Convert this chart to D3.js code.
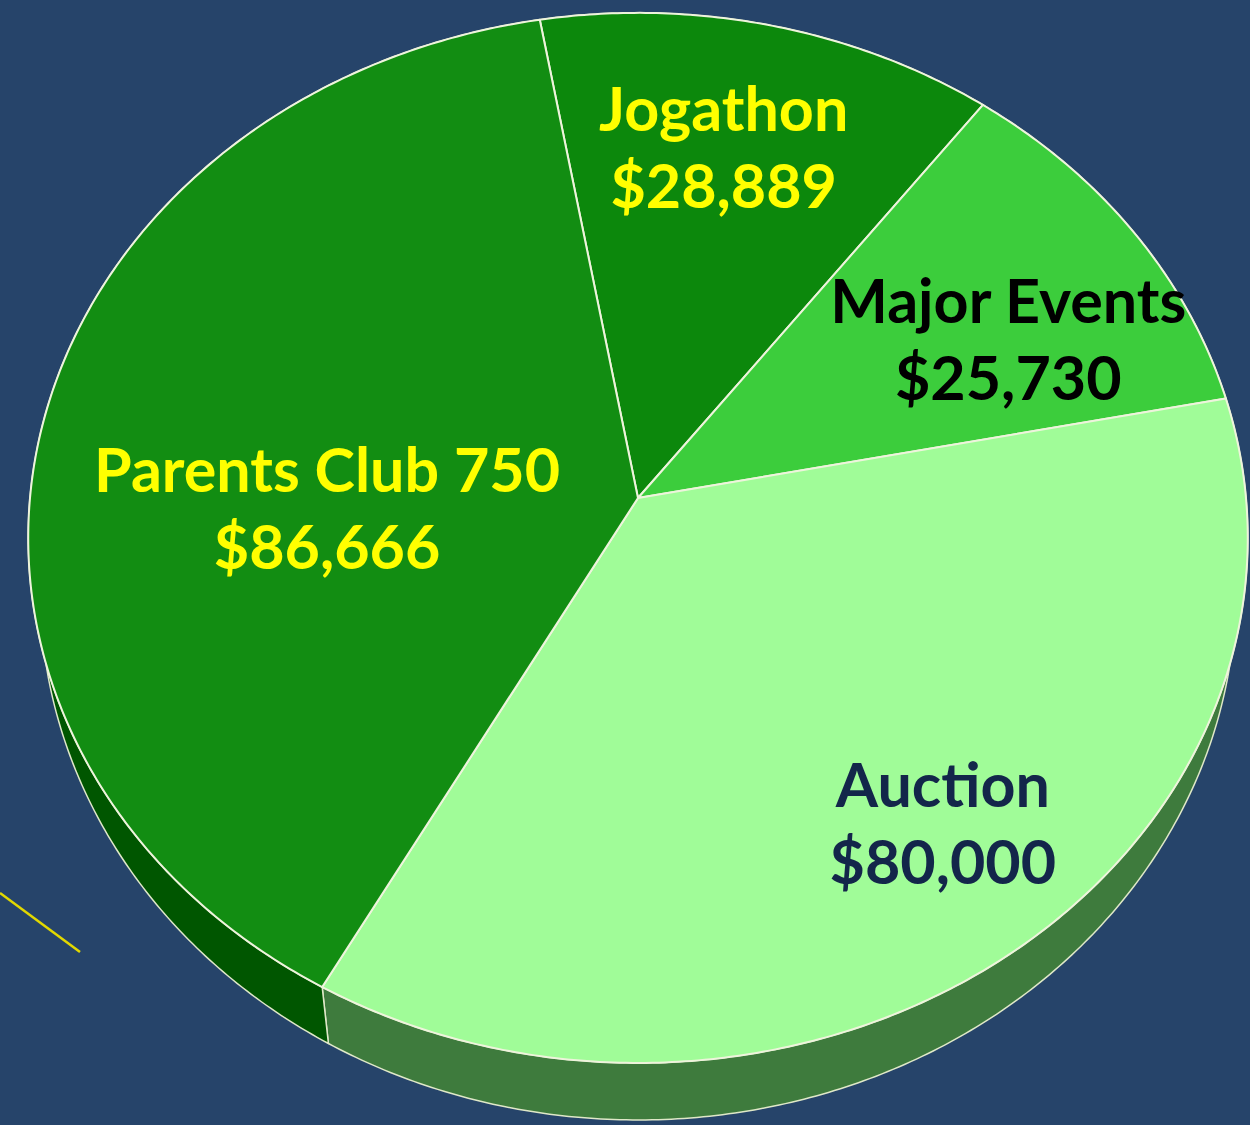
<!DOCTYPE html>
<html>
<head>
<meta charset="utf-8">
<script src="https://cdn.jsdelivr.net/npm/d3@7"></script>
<style>
	html, body { margin: 0; padding: 0; background: #26446a; }
	svg { display: block; }
	.slice-top { stroke: #eef4dc; stroke-width: 2; stroke-linejoin: round; }
	.slice-side { stroke: #dfe8c8; stroke-width: 1.5; stroke-linejoin: round; }
	.pie-label { font-family: Lato, 'Open Sans', sans-serif; font-weight: 700; font-size: 61px; text-anchor: middle; }
	.deco-line { stroke: #e2d800; stroke-width: 2.5; }
</style>
</head>
<body>
<div id="chart"></div>
<script>
/*
 *	fundraising pie (3d look)
 */

var categories = ['Jogathon', 'Major Events', 'Auction', 'Parents Club 750'];
var amounts = [28889, 25730, 80000, 86666];

// styles, same order as categories
var topColors = ['#0c880c', '#3ccd3c', '#a0fc98', '#128d12'];
var sideColors = ['#045a04', '#237a23', '#3e7b3d', '#005600'];
var labelColors = ['#ffff00', '#000000', '#13264a', '#ffff00'];

// label layout: fraction of radius and angle nudge (deg)
var labelRadius = [0.72, 0.695, 0.766, 0.511];
var labelNudge = [-1.6, 5.8, -2.6, -12.1];

(function () {
	'use strict';

	var width = 1250,
		height = 1125,
		startDeg = -10;

	// perspective projection of the pie disc
	var view = {
		cx: 638,
		cy: 498,
		a: 608,		// horizontal radius
		b: 522,		// vertical radius
		k: 0.076,	// perspective strength
		depth: 52.7,
		aBottom: 596
	};

	var money = d3.format('$,');
	var rad = d3.scaleLinear().domain([0, 360]).range([0, 2 * Math.PI]);

	var pie = d3.pie()
		.sort(null)
		.value(function (d) { return d; })
		.startAngle(rad(startDeg))
		.endAngle(rad(startDeg + 360));

	var slices = pie(amounts);

	// t: angle on the disc (clockwise from far side), r: fraction of radius
	var project = function (t, r, bottom) {
		var s = r * Math.sin(t),
			c = r * Math.cos(t),
			w = 1 + view.k * c;
		if (bottom) {
			return [view.cx + view.aBottom * s / w, view.cy - view.b * c / w + view.depth / w];
		}
		return [view.cx + view.a * s / w, view.cy - view.b * c / w];
	};

	var rimPoints = function (t0, t1, bottom) {
		var n = Math.max(2, Math.ceil(Math.abs(t1 - t0) / 0.01));
		return d3.range(n + 1).map(function (i) {
			return project(t0 + (t1 - t0) * i / n, 1, bottom);
		});
	};

	var line = d3.line();

	var svg = d3.select('#chart')
		.append('svg')
		.attr('width', width)
		.attr('height', height);

	svg.append('rect')
		.attr('width', width)
		.attr('height', height)
		.attr('fill', '#26446a');

	svg.append('line')
		.attr('class', 'deco-line')
		.attr('x1', 0).attr('y1', 893)
		.attr('x2', 80).attr('y2', 952);

	// SIDES
	svg.append('g')
		.selectAll('path')
		.data(slices)
		.join('path')
			.attr('class', 'slice-side')
			.attr('fill', function (d, i) { return sideColors[i]; })
			.attr('d', function (d) {
				var pts = rimPoints(d.startAngle, d.endAngle, false)
					.concat(rimPoints(d.endAngle, d.startAngle, true));
				return line(pts) + 'Z';
			});

	// TOPS
	svg.append('g')
		.selectAll('path')
		.data(slices)
		.join('path')
			.attr('class', 'slice-top')
			.attr('fill', function (d, i) { return topColors[i]; })
			.attr('d', function (d) {
				var pts = [project(0, 0, false)].concat(rimPoints(d.startAngle, d.endAngle, false));
				return line(pts) + 'Z';
			});

	// LABELS
	var labels = svg.append('g')
		.selectAll('text')
		.data(slices)
		.join('text')
			.attr('class', 'pie-label')
			.attr('fill', function (d, i) { return labelColors[i]; })
			.attr('transform', function (d, i) {
				var mid = (d.startAngle + d.endAngle) / 2 + rad(labelNudge[i]);
				var p = project(mid, labelRadius[i], false);
				return 'translate(' + p[0] + ',' + p[1] + ')';
			});

	labels.append('tspan')
		.attr('x', 0)
		.attr('y', -18)
		.text(function (d, i) { return categories[i]; });

	labels.append('tspan')
		.attr('x', 0)
		.attr('y', 59)
		.text(function (d) { return money(d.data); });
}());
</script>
</body>
</html>
